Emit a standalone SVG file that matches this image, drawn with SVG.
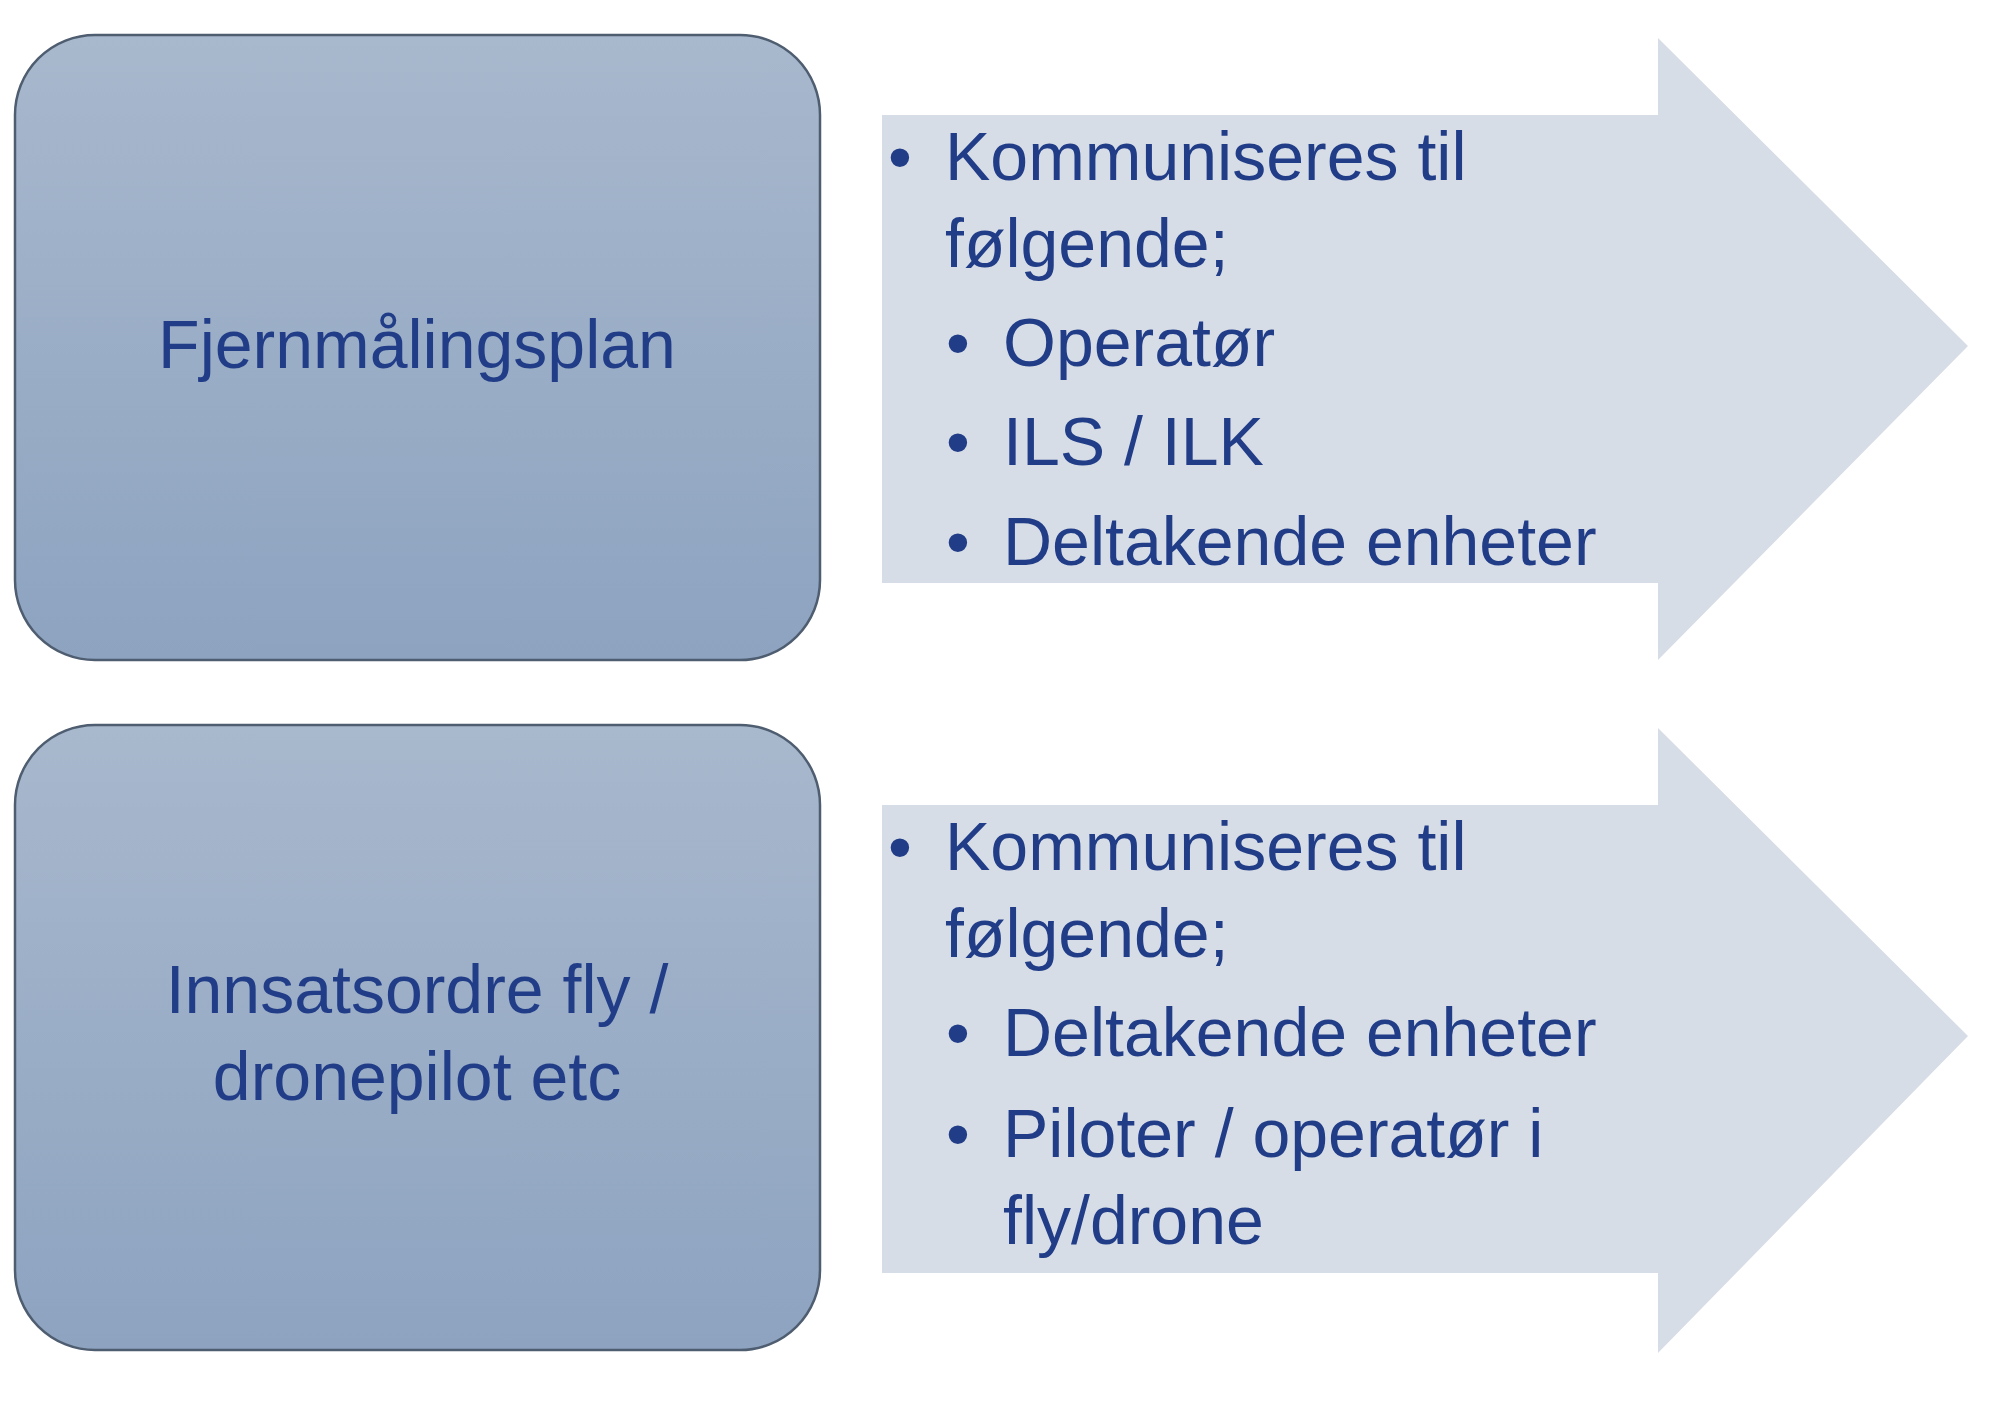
<svg xmlns="http://www.w3.org/2000/svg" width="2000" height="1411" viewBox="0 0 2000 1411">
<defs>
<linearGradient id="g" x1="0" y1="0" x2="0" y2="1"><stop offset="0" stop-color="#a8b8cd"/><stop offset="1" stop-color="#8da3c0"/></linearGradient>
<style>
.box{fill:url(#g);stroke:#4f5d70;stroke-width:2.5}
.arr{fill:#d7dde6}
text{font-family:"Liberation Sans",Arial,sans-serif;font-size:68px;fill:#213d88}
.c{text-anchor:middle}
</style>
</defs>
<rect width="2000" height="1411" fill="#fff"/>
<g id="connectors">
<polygon class="arr" points="882,115 1658,115 1658,38 1968,346 1658,660 1658,583 882,583"/>
<polygon class="arr" points="882,805 1658,805 1658,728 1968,1036 1658,1353 1658,1273 882,1273"/>
</g>
<g id="node1">
<rect class="box" x="15" y="35" width="805" height="625" rx="80"/>
<text class="c" x="417" y="368">Fjernmålingsplan</text>
</g>
<g id="node2">
<rect class="box" x="15" y="725" width="805" height="625" rx="80"/>
<text class="c" x="417" y="1013">Innsatsordre fly /</text>
<text class="c" x="417" y="1100">dronepilot etc</text>
</g>
<g id="list1">
<text x="888" y="180">•</text><text x="945" y="180">Kommuniseres til</text>
<text x="945" y="267">følgende;</text>
<text x="946" y="366">•</text><text x="1003" y="366">Operatør</text>
<text x="946" y="465">•</text><text x="1003" y="465">ILS / ILK</text>
<text x="946" y="565">•</text><text x="1003" y="565">Deltakende enheter</text>
</g>
<g id="list2">
<text x="888" y="870">•</text><text x="945" y="870">Kommuniseres til</text>
<text x="945" y="957">følgende;</text>
<text x="946" y="1056">•</text><text x="1003" y="1056">Deltakende enheter</text>
<text x="946" y="1157">•</text><text x="1003" y="1157">Piloter / operatør i</text>
<text x="1003" y="1244">fly/drone</text>
</g>
</svg>
